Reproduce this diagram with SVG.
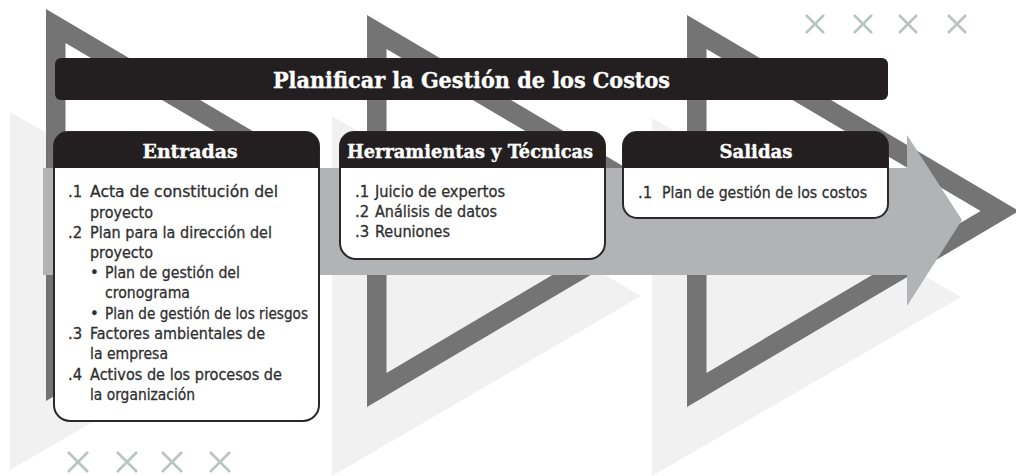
<svg xmlns="http://www.w3.org/2000/svg" width="1016" height="476" viewBox="0 0 1016 476">
<style>
.light{fill:#f0f1f0}
.dark{fill:#747474;fill-rule:evenodd}
.arrow{fill:#b2b3b5}
.x{stroke:#b8c5c1;stroke-width:2.6;fill:none}
.boxbody{fill:#ffffff;stroke:#2b2829;stroke-width:2}
.boxhead{fill:#231f20}
.head{font-family:"DejaVu Serif","Liberation Serif",serif;font-weight:bold;fill:#ffffff;stroke:#ffffff;stroke-width:0.4}
.body{font-family:"DejaVu Sans Condensed","Liberation Sans",sans-serif;font-size:16.5px;fill:#2f2f2f;stroke:#2f2f2f;stroke-width:0.3}
</style>
<g id="background">
<polygon class="light" points="10,112 319,291 10,470"/>
<polygon class="light" points="332,116 641,296 332,476"/>
<polygon class="light" points="652,118 961,297 652,476"/>
<path class="dark" d="M46,9 L378,205 L46,401 Z M65.5,43.1 L65.5,366.9 L339.6,205 Z"/>
<path class="dark" d="M367,15 L699,211 L367,407 Z M386.5,49.1 L386.5,372.9 L660.6,211 Z"/>
<path class="dark" d="M687,15 L1019,211 L687,407 Z M706.5,49.1 L706.5,372.9 L980.6,211 Z"/>
<polygon class="arrow" points="43,168 907,168 907,135 962,220 907,306 907,275 43,275"/>
<path class="x" d="M806,15 L824,33 M824,15 L806,33 M854,15 L872,33 M872,15 L854,33 M899,15 L917,33 M917,15 L899,33 M948,15 L966,33 M966,15 L948,33"/>
<path class="x" d="M68,452 L88,472 M88,452 L68,472 M117,452 L137,472 M137,452 L117,472 M162,452 L182,472 M182,452 L162,472 M210,452 L230,472 M230,452 L210,472"/>
</g>
<g id="title">
<rect x="55" y="58" width="833" height="42" rx="6" fill="#231f20"/>
<text class="head" x="471.5" y="88" text-anchor="middle" font-size="23" textLength="397" lengthAdjust="spacingAndGlyphs">Planificar la Gestión de los Costos</text>
</g>
<g id="entradas">
<path class="boxbody" d="M54,146 A14,14 0 0 1 68,132 L305,132 A14,14 0 0 1 319,146 L319,405 A16,16 0 0 1 303,421 L70,421 A16,16 0 0 1 54,405 Z"/>
<path class="boxhead" d="M54,168 L54,146 A14,14 0 0 1 68,132 L305,132 A14,14 0 0 1 319,146 L319,168 Z"/>
<text class="head" x="190" y="158" text-anchor="middle" font-size="19" textLength="95" lengthAdjust="spacingAndGlyphs">Entradas</text>
<text class="body" x="68" y="197">.1</text><text class="body" x="90" y="197" textLength="188" lengthAdjust="spacingAndGlyphs">Acta de constitución del</text>
<text class="body" x="90" y="217.5" textLength="63" lengthAdjust="spacingAndGlyphs">proyecto</text>
<text class="body" x="68" y="238">.2</text><text class="body" x="90" y="238" textLength="182" lengthAdjust="spacingAndGlyphs">Plan para la dirección del</text>
<text class="body" x="90" y="258" textLength="63" lengthAdjust="spacingAndGlyphs">proyecto</text>
<text class="body" x="90" y="278">•</text><text class="body" x="105" y="278" textLength="135" lengthAdjust="spacingAndGlyphs">Plan de gestión del</text>
<text class="body" x="105" y="298" textLength="85" lengthAdjust="spacingAndGlyphs">cronograma</text>
<text class="body" x="90" y="318.5">•</text><text class="body" x="105" y="318.5" textLength="203" lengthAdjust="spacingAndGlyphs">Plan de gestión de los riesgos</text>
<text class="body" x="68" y="339">.3</text><text class="body" x="90" y="339" textLength="175" lengthAdjust="spacingAndGlyphs">Factores ambientales de</text>
<text class="body" x="90" y="359" textLength="78" lengthAdjust="spacingAndGlyphs">la empresa</text>
<text class="body" x="68" y="379.5">.4</text><text class="body" x="90" y="379.5" textLength="192" lengthAdjust="spacingAndGlyphs">Activos de los procesos de</text>
<text class="body" x="90" y="400" textLength="105" lengthAdjust="spacingAndGlyphs">la organización</text>
</g>
<g id="herramientas">
<path class="boxbody" d="M340,146 A14,14 0 0 1 354,132 L591,132 A14,14 0 0 1 605,146 L605,243 A16,16 0 0 1 589,259 L356,259 A16,16 0 0 1 340,243 Z"/>
<path class="boxhead" d="M340,168 L340,146 A14,14 0 0 1 354,132 L591,132 A14,14 0 0 1 605,146 L605,168 Z"/>
<text class="head" x="470" y="158" text-anchor="middle" font-size="19" textLength="246" lengthAdjust="spacingAndGlyphs">Herramientas y Técnicas</text>
<text class="body" x="355" y="197">.1</text><text class="body" x="375" y="197" textLength="130" lengthAdjust="spacingAndGlyphs">Juicio de expertos</text>
<text class="body" x="355" y="217">.2</text><text class="body" x="375" y="217" textLength="122" lengthAdjust="spacingAndGlyphs">Análisis de datos</text>
<text class="body" x="355" y="237">.3</text><text class="body" x="375" y="237" textLength="75" lengthAdjust="spacingAndGlyphs">Reuniones</text>
</g>
<g id="salidas">
<path class="boxbody" d="M623,146 A14,14 0 0 1 637,132 L874,132 A14,14 0 0 1 888,146 L888,204 A14,14 0 0 1 874,218 L637,218 A14,14 0 0 1 623,204 Z"/>
<path class="boxhead" d="M623,168 L623,146 A14,14 0 0 1 637,132 L874,132 A14,14 0 0 1 888,146 L888,168 Z"/>
<text class="head" x="756" y="158" text-anchor="middle" font-size="19" textLength="73" lengthAdjust="spacingAndGlyphs">Salidas</text>
<text class="body" x="638" y="198">.1</text><text class="body" x="662" y="198" textLength="205" lengthAdjust="spacingAndGlyphs">Plan de gestión de los costos</text>
</g>
</svg>
